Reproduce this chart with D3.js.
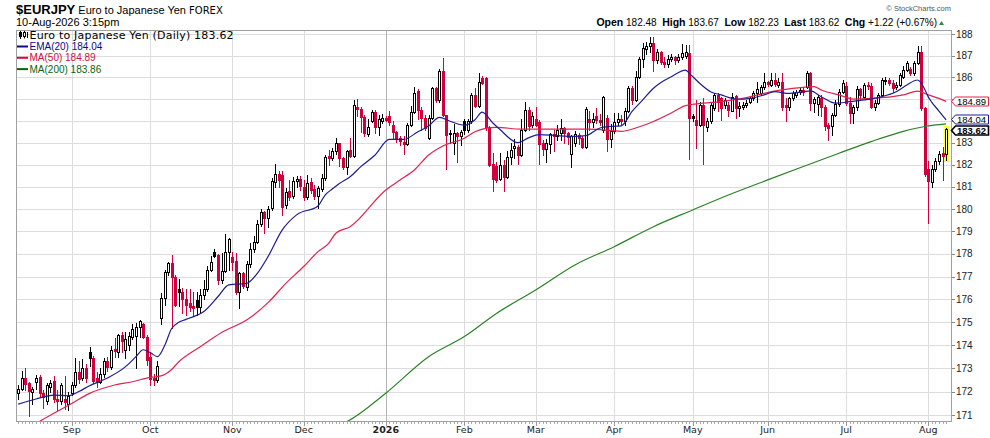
<!DOCTYPE html>
<html><head><meta charset="utf-8">
<script src="https://cdn.jsdelivr.net/npm/d3@7"></script>
<style>html,body{margin:0;padding:0;background:#fff}svg{display:block}</style>
</head><body>
<svg id="c" width="990" height="438"></svg>
<script>
// ---- DATA (EURJPY daily, 11-Aug-2025 .. 10-Aug-2026) ----
const opens = [171.94,172.09,172.60,172.35,171.99,172.40,172.64,171.94,171.60,172.20,
172.45,171.70,171.60,171.70,171.48,171.95,172.30,172.83,172.57,173.00,
173.70,173.45,172.58,172.43,172.76,173.30,173.05,173.85,173.70,174.43,
173.80,174.00,174.36,174.40,174.80,174.90,174.36,173.50,172.60,172.50,
175.19,176.06,177.20,177.60,177.00,176.43,176.31,176.00,175.85,175.70,
175.95,175.65,176.20,176.43,177.30,178.10,177.95,176.85,177.25,178.10,
177.85,177.70,176.30,177.15,176.55,177.55,178.20,178.55,179.35,179.85,
179.62,180.05,181.20,181.60,181.55,180.20,180.80,180.60,181.25,181.35,
181.00,180.55,181.20,180.90,180.60,180.90,181.40,182.40,182.30,182.60,
182.97,182.30,181.90,182.65,182.40,184.63,184.55,184.16,183.40,183.98,
184.40,183.70,184.00,184.15,184.20,183.80,183.50,183.20,183.05,182.95,
183.80,184.40,185.35,184.50,184.15,183.20,184.15,185.50,184.97,186.30,
184.25,183.45,183.00,183.45,183.30,184.00,183.60,184.00,185.20,184.70,
185.95,185.95,183.70,182.05,181.95,181.35,182.00,181.45,182.35,182.75,
182.80,182.45,183.60,184.50,183.80,184.10,183.95,183.00,182.70,182.95,
183.40,183.30,183.45,183.65,183.45,182.50,183.00,183.35,183.20,182.80,
184.10,183.95,184.20,184.05,183.60,184.15,183.15,183.55,183.95,184.10,
184.00,184.45,185.50,184.95,186.00,186.85,187.30,187.45,187.60,186.80,
187.20,186.72,186.60,186.85,186.95,186.80,186.95,187.00,187.15,184.20,
184.05,183.82,184.73,183.71,183.97,184.57,185.19,185.03,184.73,184.73,
184.47,185.14,184.57,184.65,184.73,184.88,185.03,185.26,185.30,185.57,
185.80,185.65,185.90,185.65,185.80,184.73,184.62,185.03,185.19,185.34,
185.42,185.57,186.19,184.84,184.77,185.03,184.65,183.82,183.74,184.27,
184.77,185.34,185.60,184.84,184.38,184.62,185.45,185.11,185.65,185.60,
184.62,184.84,185.19,185.85,185.88,185.72,185.55,185.65,186.03,186.34,
186.40,186.19,186.65,187.20,184.57,181.80,181.20,181.80,182.16,182.54,
182.48];
const highs = [172.28,172.89,173.00,172.43,172.20,172.70,172.70,172.06,172.35,172.50,
172.67,172.06,172.35,172.67,171.97,172.40,173.45,173.30,173.40,173.20,
173.92,173.52,172.86,173.00,173.45,173.50,173.95,174.30,174.50,174.55,
174.55,174.55,174.90,174.97,175.08,174.95,174.42,173.70,172.75,173.30,
176.28,177.30,177.62,177.96,177.08,176.90,176.50,176.45,176.45,176.30,
176.30,176.45,176.85,177.45,177.90,178.20,178.00,178.05,178.90,178.70,
178.10,178.05,177.22,177.20,177.70,178.50,178.80,179.50,180.00,179.93,
180.15,181.40,182.05,181.70,181.70,180.95,181.30,181.45,181.50,181.50,
181.30,181.55,181.40,181.10,181.05,181.60,182.45,182.65,182.75,183.20,
183.00,182.35,182.65,183.20,184.95,184.98,184.63,184.25,184.10,184.50,
184.50,184.25,184.30,184.20,184.45,184.00,183.55,183.30,183.30,183.90,
184.70,185.55,185.45,184.65,184.25,184.25,185.55,185.55,186.37,186.88,
184.25,183.60,183.85,183.50,183.60,184.10,184.10,185.30,185.50,186.20,
186.05,186.00,183.75,182.55,182.10,182.55,182.20,182.60,183.00,183.15,
182.90,184.10,184.85,184.65,184.40,184.65,184.05,183.10,183.15,183.45,
183.60,183.80,184.10,183.70,183.50,183.35,183.55,183.45,183.30,184.65,
184.45,184.35,184.60,184.30,185.15,184.25,183.85,184.35,184.35,184.25,
184.60,185.60,185.60,186.30,186.95,187.60,187.65,187.90,187.90,187.30,
187.25,186.95,187.05,187.10,187.00,187.10,187.55,187.50,187.51,184.30,
184.96,184.88,185.03,184.12,184.80,185.26,185.26,185.11,185.05,184.88,
185.26,185.19,184.88,184.85,184.95,185.15,185.35,185.80,185.65,186.19,
185.85,186.19,186.19,185.95,186.19,185.03,185.10,185.35,185.42,185.50,
185.50,186.30,186.27,185.10,185.19,185.19,184.73,183.90,184.38,184.96,
185.45,185.88,185.80,185.11,184.73,185.60,185.50,185.72,185.80,185.72,
184.96,185.30,185.95,186.00,185.95,185.88,185.80,186.20,186.55,186.75,
186.50,186.75,187.45,187.45,184.65,182.16,181.97,182.30,182.60,182.80,
183.67];
const lows = [171.70,172.06,172.06,170.97,171.48,172.10,171.77,171.30,171.48,172.00,
171.55,171.20,171.48,171.26,171.19,171.84,172.20,172.35,172.50,172.40,
173.10,172.35,172.20,172.35,172.64,172.90,172.95,173.50,173.50,173.70,
173.45,173.80,174.25,173.00,174.36,174.30,173.15,172.30,172.30,172.40,
174.90,175.77,177.08,174.75,175.70,175.70,175.40,175.30,175.50,175.30,
175.30,175.45,176.00,176.35,177.25,177.85,176.65,176.70,177.20,177.30,
177.30,176.25,175.60,176.50,176.40,177.40,178.10,178.50,179.25,178.95,
179.20,179.95,181.00,181.00,179.75,180.05,180.40,180.50,181.00,180.85,
180.40,180.45,180.70,180.45,180.05,180.80,181.30,182.00,182.20,182.50,
181.95,181.80,181.60,182.35,182.35,184.20,183.50,183.30,183.30,183.95,
183.45,183.35,183.90,184.00,183.80,183.20,183.05,182.90,182.50,182.90,
183.75,184.35,184.10,183.60,183.60,183.15,184.10,184.85,184.85,184.20,
181.80,183.00,182.50,182.10,182.90,183.40,183.50,183.90,184.65,184.65,
185.70,183.60,181.95,180.80,181.20,181.30,180.80,181.40,182.05,182.30,
182.05,182.40,183.55,183.60,183.70,183.75,182.05,182.45,182.10,182.55,
182.60,183.10,183.10,183.00,182.95,181.90,182.85,182.95,182.75,182.75,
183.60,183.70,183.90,183.80,183.50,182.60,182.80,183.45,183.80,183.85,
183.80,184.40,184.75,184.90,185.95,186.50,187.10,187.20,186.30,186.65,
186.60,186.50,186.50,186.75,186.60,186.70,186.85,186.90,182.24,184.00,
182.76,183.74,182.01,183.52,183.90,184.50,184.43,184.05,184.60,184.20,
184.43,184.12,184.20,184.55,184.65,184.80,184.95,184.88,185.20,185.45,
185.60,185.60,185.60,185.55,184.50,183.97,184.50,184.95,185.10,185.25,
185.20,185.50,184.50,184.40,184.27,184.20,183.60,183.14,183.37,184.20,
184.70,185.30,184.73,183.89,183.90,184.50,185.00,185.03,185.45,184.57,
184.50,184.75,185.11,185.70,185.65,185.34,185.45,185.60,185.95,186.30,
186.10,186.11,186.60,184.50,181.50,179.39,181.00,181.70,182.05,181.30,
182.23];
const closes = [172.09,172.60,172.31,172.03,172.09,172.60,171.94,171.77,172.30,172.35,
171.70,171.60,172.28,171.55,171.82,172.30,172.83,172.54,173.00,172.60,
173.45,172.47,172.43,172.76,173.30,173.05,173.80,173.73,174.46,174.20,
174.25,174.40,174.72,174.80,175.05,174.36,173.37,172.55,172.50,173.10,
176.06,177.20,177.60,177.00,175.77,176.31,176.00,175.75,175.65,175.60,
175.65,176.20,176.45,177.30,177.65,177.90,176.85,177.25,178.10,178.65,
177.65,176.30,177.15,176.60,177.55,178.20,178.55,179.35,179.85,179.62,
180.00,181.25,181.60,181.30,180.10,180.75,180.55,181.25,181.35,181.05,
180.55,181.15,180.85,180.60,180.95,181.40,182.35,182.30,182.60,182.97,
182.30,181.90,182.60,182.40,184.74,184.55,184.16,183.46,183.70,184.40,
183.70,184.10,184.15,184.05,183.95,183.50,183.20,183.06,182.95,183.80,
184.40,185.30,184.50,184.15,183.65,184.15,185.50,184.97,186.30,184.25,
183.33,183.38,183.45,183.30,183.50,183.60,184.00,185.20,184.70,185.80,
185.75,183.70,182.00,181.35,181.30,182.00,181.45,182.35,182.65,182.85,
182.45,183.60,184.50,183.75,184.20,183.80,182.95,182.70,183.00,183.40,
183.30,183.60,183.65,183.45,183.25,183.30,183.40,183.20,182.80,184.55,
183.95,184.10,184.05,183.95,185.10,183.15,183.55,183.95,184.10,184.00,
184.45,185.50,184.95,186.00,186.85,187.35,187.45,187.60,186.80,187.20,
186.70,186.60,186.85,186.95,186.80,186.95,187.15,187.20,184.12,184.15,
183.82,184.73,183.82,183.97,184.73,185.19,184.88,184.57,184.96,184.50,
185.11,184.57,184.68,184.73,184.80,185.03,185.26,185.46,185.57,185.80,
185.70,185.90,185.70,185.80,184.65,184.62,185.03,185.26,185.34,185.42,
185.34,186.19,184.84,185.00,185.11,184.65,183.74,183.67,184.27,184.77,
185.34,185.72,184.84,184.38,184.62,185.45,185.19,185.65,185.60,184.62,
184.84,185.19,185.88,185.90,185.72,185.50,185.65,186.11,186.34,186.65,
186.19,186.65,187.20,184.57,181.60,181.26,181.80,182.16,182.50,182.40,
183.62];
// overlays: [trading-day index, value]
const ema20 = [[0,171.46],[5,171.68],[10,171.85],[14,171.82],[17,172.0],[20,172.25],[25,172.58],[30,173.06],[33,173.5],[35,173.8],[37,173.68],[39,173.5],[41,173.97],[43,174.72],[45,174.99],[47,175.12],[52,175.46],[56,176.12],[59,176.63],[64,176.7],[67,177.14],[70,177.88],[74,179.07],[78,179.74],[84,180.14],[86,180.63],[88,180.9],[90,181.15],[93,181.45],[96,181.91],[100,182.44],[104,183.15],[108,183.15],[112,183.5],[115,183.76],[118,184.16],[121,183.98],[125,183.8],[128,184.05],[130,184.4],[133,183.9],[135,183.6],[140,183.0],[143,183.22],[146,183.37],[151,183.32],[156,183.29],[159,183.32],[163,183.67],[166,183.74],[169,183.77],[172,184.43],[175,184.96],[178,185.5],[180,185.75],[183,186.03],[187,186.34],[188,186.2],[191,185.72],[194,185.34],[197,185.19],[200,185.03],[202,184.99],[205,185.03],[209,185.19],[212,185.34],[216,185.26],[220,185.34],[222,185.38],[225,185.11],[229,184.81],[233,184.88],[237,184.96],[242,185.11],[246,185.34],[249,185.65],[252,185.88],[253,185.75],[254,185.45],[255,185.1],[256,184.85],[258,184.45],[260,184.04]];
const ma50 = [[5,170.6],[6,170.72],[10,171.07],[15,171.49],[20,171.92],[27,172.28],[32,172.42],[37,172.61],[40,172.67],[43,172.95],[45,173.28],[51,173.93],[57,174.55],[64,175.09],[70,175.85],[75,176.7],[80,177.44],[84,178.1],[87,178.47],[89,178.92],[93,179.21],[103,180.86],[107,181.31],[111,181.76],[115,182.44],[119,182.85],[125,183.2],[128,183.5],[131,183.65],[134,183.7],[141,183.62],[151,183.62],[160,183.62],[169,183.52],[173,183.67],[178,183.97],[183,184.36],[187,184.7],[192,184.81],[197,184.88],[203,185.03],[209,185.26],[214,185.42],[220,185.54],[223,185.57],[225,185.42],[230,185.19],[234,185.0],[239,185.03],[245,185.11],[248,185.19],[252,185.37],[255,185.19],[258,185.03],[260,184.89]];
const ma200 = [[90,170.58],[92,170.71],[103,171.93],[115,173.5],[125,174.37],[134,175.38],[145,176.41],[156,177.51],[167,178.32],[178,179.21],[189,179.96],[199,180.63],[210,181.31],[220,181.92],[230,182.52],[239,183.05],[248,183.52],[254,183.74],[260,183.86]];
const yTicks = [171,172,173,174,175,176,177,178,179,180,181,182,183,184,185,186,187,188];
const monthLabels = ["Sep","Oct","Nov","Dec","2026","Feb","Mar","Apr","May","Jun","Jul","Aug"];
const lastInfo = {open:182.48, high:183.67, low:182.23, last:183.62, chg:"+1.22", pct:"+0.67%"};
const legendVals = {price:183.62, ema:184.04, ma50:184.89, ma200:183.86};

// ---- LAYOUT ----
const L=16, R=952, T=30, B=422;
const RED="#d2003a", EMA_C="#1c1c96", MA50_C="#e0234e", MA200_C="#2a8224";
const SANS="'Liberation Sans', Arial, sans-serif", VER="'DejaVu Sans', Verdana, sans-serif";
const svg = d3.select("#c");
const n = closes.length;
const dates = d3.timeDay.range(new Date(2025,7,11), new Date(2026,7,11)).filter(d=>d.getDay()%6!==0);
const x = d3.scalePoint().domain(d3.range(n)).range([18.2, 946.1]);
const y = d3.scaleLog().domain([170.70, 188.21]).range([B, T]);
const cr = v => Math.round(v)+0.5;

svg.append("defs").append("clipPath").attr("id","clip").append("rect")
  .attr("x",L).attr("y",T).attr("width",R-L).attr("height",B-T);

// gridlines
const grid = svg.append("g");
grid.selectAll("line.h").data(yTicks).join("line")
  .attr("x1",L).attr("x2",R).attr("y1",d=>cr(y(d))).attr("y2",d=>cr(y(d)))
  .attr("stroke","#dcdcdc");
const monthIdx = d3.range(1,n).filter(i=>dates[i].getMonth()!==dates[i-1].getMonth());
grid.selectAll("line.v").data(monthIdx).join("line")
  .attr("x1",i=>cr(x(i))).attr("x2",i=>cr(x(i))).attr("y1",T).attr("y2",B)
  .attr("stroke",i=>dates[i].getMonth()===0?"#b4b4b4":"#dcdcdc");

// legend (behind data)
const lg = svg.append("g");
lg.append("line").attr("x1",20.5).attr("x2",20.5).attr("y1",30.5).attr("y2",39).attr("stroke","#000");
lg.append("rect").attr("x",19.5).attr("y",32.5).attr("width",2).attr("height",4).attr("fill","#000").attr("stroke","#000");
lg.append("line").attr("x1",24.5).attr("x2",24.5).attr("y1",31).attr("y2",38.5).attr("stroke","#000");
lg.append("rect").attr("x",23.5).attr("y",32.5).attr("width",2).attr("height",4).attr("fill","#fff").attr("stroke","#000");
lg.append("line").attr("x1",27.5).attr("x2",27.5).attr("y1",32).attr("y2",38).attr("stroke","#000");
lg.append("text").attr("x",29.5).attr("y",38.5).attr("font-family",VER).attr("font-size",11)
  .attr("letter-spacing",0.2).attr("fill","#000").text("Euro to Japanese Yen (Daily) "+legendVals.price.toFixed(2));
[["EMA(20) "+legendVals.ema.toFixed(2),"#0a0a8c",50],["MA(50) "+legendVals.ma50.toFixed(2),"#cc1040",61.3],["MA(200) "+legendVals.ma200.toFixed(2),"#0b640b",72.6]]
.forEach(([t,c,by])=>{
  lg.append("rect").attr("x",17).attr("y",by-4.5).attr("width",11).attr("height",2).attr("fill",c);
  lg.append("text").attr("x",29.5).attr("y",by).attr("font-family",SANS).attr("font-size",10).attr("fill",c).text(t);
});

// yellow highlight on last candle
const li = n-1;
svg.append("rect").attr("x",Math.round(x(li))-2.5).attr("y",Math.round(y(highs[li]))-2)
  .attr("width",6).attr("height",Math.round(y(lows[li]))-Math.round(y(highs[li]))+4).attr("fill","#ffff33");

// candles
const cg = svg.append("g").attr("clip-path","url(#clip)");
d3.range(n).forEach(i=>{
  const o=opens[i], c=closes[i], h=highs[i], l=lows[i];
  const col = (i===0 || c>=closes[i-1]) ? "#000" : RED;
  const hollow = c>o;
  const px = Math.round(x(i));
  const yt = Math.round(y(Math.max(o,c))), yb = Math.round(y(Math.min(o,c)));
  const yh = Math.round(y(h)), yl = Math.round(y(l));
  cg.append("line").attr("x1",px+0.5).attr("x2",px+0.5).attr("y1",yh).attr("y2",yt+0.5).attr("stroke",col);
  cg.append("line").attr("x1",px+0.5).attr("x2",px+0.5).attr("y1",yb+0.5).attr("y2",yl+1).attr("stroke",col);
  cg.append("rect").attr("x",px-0.5).attr("y",yt+0.5).attr("width",2).attr("height",Math.max(yb-yt,0.01))
    .attr("fill",hollow?"#fff":col).attr("stroke",col).attr("stroke-width",1);
});

// overlays
const line = d3.line().x(d=>x(d[0])).y(d=>y(d[1])).curve(d3.curveMonotoneX);
const og = svg.append("g").attr("clip-path","url(#clip)");
og.append("path").attr("d",line(ma200)).attr("fill","none").attr("stroke",MA200_C).attr("stroke-width",1.2);
og.append("path").attr("d",line(ma50)).attr("fill","none").attr("stroke",MA50_C).attr("stroke-width",1.2);
og.append("path").attr("d",line(ema20)).attr("fill","none").attr("stroke",EMA_C).attr("stroke-width",1.2);

// frame
svg.append("rect").attr("x",L+0.5).attr("y",T+0.5).attr("width",R-L-1).attr("height",B-T-1)
  .attr("fill","none").attr("stroke","#a0a0a0");

// bottom axis ticks & labels
const ax = svg.append("g");
ax.selectAll("line.d").data(d3.range(n)).join("line")
  .attr("x1",i=>cr(x(i))).attr("x2",i=>cr(x(i))).attr("y1",B).attr("y2",B+2).attr("stroke","#aaa");
ax.selectAll("line.m").data(monthIdx).join("line")
  .attr("x1",i=>cr(x(i))).attr("x2",i=>cr(x(i))).attr("y1",B).attr("y2",B+4).attr("stroke","#999");
ax.selectAll("text.m").data(monthIdx).join("text")
  .attr("x",i=>x(i)).attr("y",433).attr("text-anchor","middle")
  .attr("font-family",VER).attr("font-size",9.5).attr("fill","#222")
  .attr("font-weight",(i,k)=>monthLabels[k]==="2026"?"bold":"normal")
  .text((i,k)=>monthLabels[k]);

// value tags: positions, nudged apart when they would collide
const tags = [
  {v:legendVals.ma50, c:MA50_C, bold:false},
  {v:legendVals.ema, c:EMA_C, bold:false},
  {v:lastInfo.last, c:"#000", bold:true}
].map(t=>Object.assign(t,{yy:y(t.v)})).sort((a,b)=>a.yy-b.yy);
for (let k=1;k<tags.length;k++){
  const gap = tags[k].yy - tags[k-1].yy;
  if (gap < 11){ const d=(11-gap)/2; tags[k-1].yy-=d; tags[k].yy+=d; }
}

// right axis (labels hidden behind value tags are not drawn, as in the reference)
const visibleTicks = yTicks.filter(t=>tags.every(tg=>Math.abs(tg.yy-y(t))>6));
const ra = svg.append("g");
ra.selectAll("line").data(yTicks).join("line")
  .attr("x1",R).attr("x2",R+3).attr("y1",d=>cr(y(d))).attr("y2",d=>cr(y(d))).attr("stroke","#888");
ra.selectAll("text").data(visibleTicks).join("text")
  .attr("x",956).attr("y",d=>y(d)+3.6).attr("font-family",SANS).attr("font-size",10).attr("fill","#222").text(d=>d);

tags.forEach(t=>{
  const yy = Math.round(t.yy)+0.5;
  svg.append("path").attr("d",`M${R-0.5},${yy}L${R+3.5},${yy-4.5}L988.5,${yy-4.5}L988.5,${yy+4.5}L${R+3.5},${yy+4.5}Z`)
    .attr("fill","#fff").attr("stroke",t.c).attr("stroke-width",t.bold?1.6:1);
  svg.append("text").attr("x",957).attr("y",yy+3.3).attr("font-family",SANS).attr("font-size",9.5)
    .attr("font-weight",t.bold?"bold":"normal").attr("fill","#000").text(t.v.toFixed(2));
});

// header
const hd = svg.append("text").attr("x",16).attr("y",14).attr("font-family",SANS).attr("fill","#000");
hd.append("tspan").attr("font-size",13).attr("font-weight","bold").text("$EURJPY");
hd.append("tspan").attr("font-size",11).text(" Euro to Japanese Yen ");
hd.append("tspan").attr("font-family",VER).attr("font-size",10).text("FOREX");
svg.append("text").attr("x",16).attr("y",25.5).attr("font-family",SANS).attr("font-size",11).attr("fill","#000").text("10-Aug-2026 3:15pm");
svg.append("text").attr("x",951).attr("y",11).attr("text-anchor","end").attr("font-family",SANS)
  .attr("font-size",7.5).attr("fill","#555").text("\u00A9 StockCharts.com");
const ol = svg.append("text").attr("x",937).attr("y",26).attr("text-anchor","end").attr("font-family",SANS).attr("font-size",10).attr("fill","#000");
[["Open"," "+lastInfo.open.toFixed(2)+"  "],["High"," "+lastInfo.high.toFixed(2)+"  "],["Low"," "+lastInfo.low.toFixed(2)+"  "],["Last"," "+lastInfo.last.toFixed(2)+"  "],["Chg"," "+lastInfo.chg+" ("+lastInfo.pct+")"]]
.forEach(([a,b])=>{ ol.append("tspan").attr("font-weight","bold").attr("font-size",10.5).text(a); ol.append("tspan").style("white-space","pre").text(b); });
svg.append("path").attr("d","M939,25L944,25L941.5,21Z").attr("fill","#2d8a3a");
</script>
</body></html>
